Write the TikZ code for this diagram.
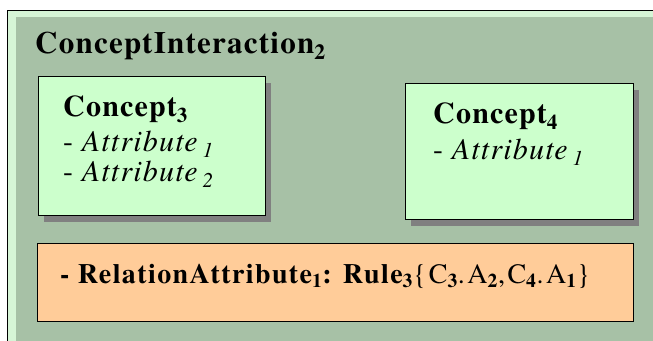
\documentclass[tikz,border=0pt]{standalone}
\usepackage{fontspec}
\setmainfont{texgyretermes}[Extension=.otf, UprightFont=*-regular, BoldFont=*-bold, ItalicFont=*-italic, BoldItalicFont=*-bolditalic]
\newfontfamily\spacedfont{texgyretermes}[Extension=.otf, UprightFont=*-regular, BoldFont=*-bold, ItalicFont=*-italic, BoldItalicFont=*-bolditalic, LetterSpace=4]
\newfontfamily\rulefont{texgyretermes}[Extension=.otf, UprightFont=*-regular, BoldFont=*-bold, ItalicFont=*-italic, BoldItalicFont=*-bolditalic, LetterSpace=5]
\usetikzlibrary{positioning, shadows}
\definecolor{panelgreen}{RGB}{167,193,166}
\definecolor{stripgreen}{RGB}{214,245,214}
\definecolor{conceptgreen}{RGB}{204,255,204}
\definecolor{ruleorange}{RGB}{255,204,153}

\begin{document}
\begin{tikzpicture}[
  x=1pt, y=-1pt,
  frame/.style={draw, rectangle, line width=1.2pt, fill=stripgreen, anchor=north west, minimum width=720pt, minimum height=420pt},
  panel/.style={rectangle, fill=panelgreen, anchor=north west, minimum width=720pt, minimum height=420pt},
  concept/.style={draw, rectangle, line width=1.2pt, fill=conceptgreen, anchor=north west, drop shadow={shadow xshift=5pt, shadow yshift=-6pt, fill=black!50, opacity=1}},
  relation/.style={draw, rectangle, line width=1.2pt, fill=ruleorange, anchor=north west},
  heading/.style={inner sep=0pt, font=\spacedfont\fontsize{31}{31}\selectfont\bfseries},
  attrs/.style={inner sep=0pt, align=left, anchor=north west, font=\spacedfont\fontsize{30}{30}\selectfont},
  ruletext/.style={inner sep=0pt, font=\rulefont\fontsize{28}{28}\selectfont}
]
\useasboundingbox (0,0) rectangle (653,340);
\clip (0,0) rectangle (653,340);

% Outer interaction frame
\node[frame] (interaction) at (7,10) {};
\node[panel] (inside) at (16,17) {};
\node[heading, anchor=base west] (title) at (35,53) {ConceptInteraction\textsubscript{2}};

% Concepts
\node[concept, minimum width=227pt, minimum height=139pt] (c3) at (38,76) {};
\node[attrs, below right=20pt and 25pt of c3.north west] (c3text)
  {\textbf{Concept\textsubscript{3}}\\[5pt]
   - \textit{Attribute\,\textsubscript{1}}\\
   - \textit{Attribute\,\textsubscript{2}}};

\node[concept, minimum width=228pt, minimum height=136pt] (c4) at (405,83) {};
\node[attrs, below right=20pt and 28pt of c4.north west] (c4text)
  {\textbf{Concept\textsubscript{4}}\\[6pt]
   - \textit{Attribute\,\textsubscript{1}}};

% Relation attribute
\node[relation, minimum width=596pt, minimum height=78pt] (rel) at (37,243) {};
\node[ruletext, anchor=base west] (reltext) at (60,283)
  {\textbf{- RelationAttribute\textsubscript{1}: Rule\textsubscript{3}}{\addfontfeature{LetterSpace=9}\{C\textsubscript{\bfseries 3}.A\textsubscript{\bfseries 2},C\textsubscript{\bfseries 4}.A\textsubscript{\bfseries 1}\}}};

\end{tikzpicture}
\end{document}
